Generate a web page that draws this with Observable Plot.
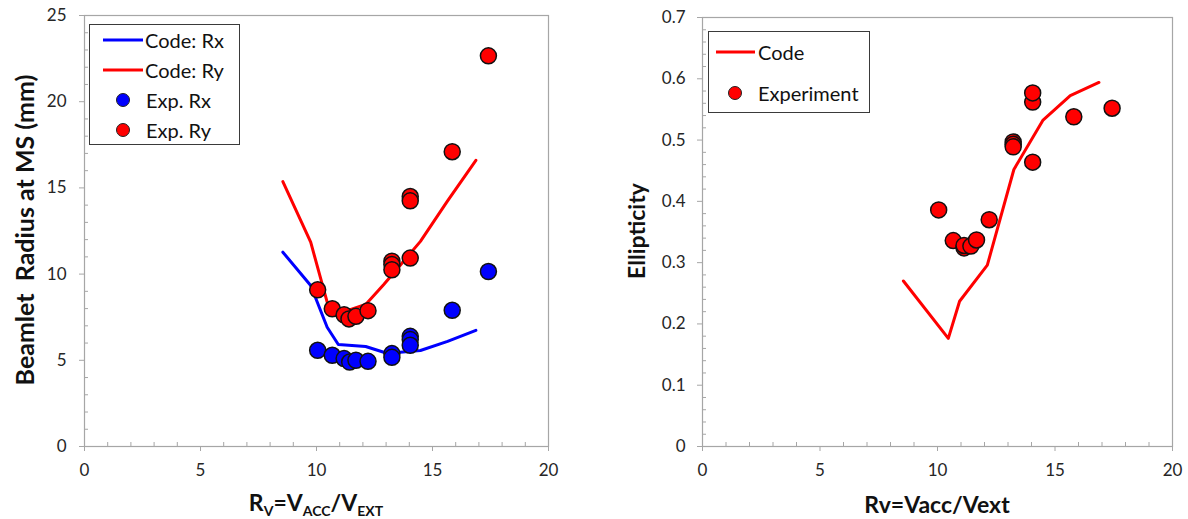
<!DOCTYPE html>
<html><head><meta charset="utf-8">
<script src="https://cdn.jsdelivr.net/npm/d3@7"></script>
<script src="https://cdn.jsdelivr.net/npm/@observablehq/plot@0.6"></script>
<style>
body{margin:0;background:#fff;}
#wrap{position:relative;width:1188px;height:519px;overflow:hidden;font-family:Lato,"Open Sans",sans-serif;color:#111;}
.panel{position:absolute;top:0;}
.legend{position:absolute;border:1.5px solid #3a3a3a;background:#fff;box-sizing:border-box;}
.legend .t{position:absolute;transform:translateY(-50%);font-size:20px;line-height:1;white-space:nowrap;color:#111;}
.legend svg{position:absolute;left:0;top:0;overflow:visible;}
.ytitle{position:absolute;transform:translate(-50%,-50%) rotate(-90deg);white-space:pre;font-weight:bold;font-size:23px;line-height:1;}
.ytitle.big{font-size:25px;}
.xtitle{position:absolute;transform:translate(-50%,-50%);white-space:pre;font-weight:bold;font-size:23px;line-height:1;}
.xtitle sub{font-size:14px;vertical-align:-5px;}
</style></head>
<body><div id="wrap"></div>
<script>
// ---- data ----
const xTicks = [0, 5, 10, 15, 20];
const xMinorTicks = [1,2,3,4,6,7,8,9,11,12,13,14,16,17,18,19];
const leftYTicks = [0, 5, 10, 15, 20, 25];
const leftYMinorTicks = [1,2,3,4,6,7,8,9,11,12,13,14,16,17,18,19,21,22,23,24];
const rightYTicks = [0, 0.1, 0.2, 0.3, 0.4, 0.5, 0.6, 0.7];
const rightYMinorTicks = [0.02,0.04,0.06,0.08,0.12,0.14,0.16,0.18,0.22,0.24,0.26,0.28,0.32,0.34,0.36,0.38,0.42,0.44,0.46,0.48,0.52,0.54,0.56,0.58,0.62,0.64,0.66,0.68];

// Code (simulation)
const codeX  = [8.55, 9.75, 10.46, 10.94, 12.12, 12.9, 13.6, 14.48, 15.65, 16.87];
const codeRx = [11.27, 9.34, 6.92, 5.92, 5.80, 5.47, 5.47, 5.57, 6.10, 6.74];
const codeRy = [15.37, 11.85, 8.37, 7.70, 8.24, 9.40, 10.50, 11.90, 14.25, 16.60];
const codeEX = [8.55, 10.46, 10.94, 12.12, 13.25, 14.48, 15.65, 16.87];
const codeE  = [0.270, 0.1765, 0.237, 0.296, 0.452, 0.532, 0.5725, 0.594];

// Experiment
const expRxX = [10.05, 10.68, 11.19, 11.43, 11.70, 12.22, 13.25, 13.25, 14.04, 14.04, 14.04, 15.85, 17.41];
const expRx  = [5.58, 5.29, 5.10, 4.90, 5.00, 4.94, 5.39, 5.17, 6.39, 6.20, 5.87, 7.90, 10.15];
const expRyX = [10.05, 10.68, 11.19, 11.40, 11.70, 12.22, 13.25, 13.25, 13.25, 14.04, 14.04, 14.04, 15.85, 17.41];
const expRy  = [9.09, 7.99, 7.64, 7.40, 7.55, 7.88, 10.75, 10.55, 10.25, 10.93, 14.50, 14.25, 17.10, 22.66];
const expEX  = [10.05, 10.67, 11.13, 11.13, 11.42, 11.66, 12.20, 13.22, 13.22, 13.22, 14.05, 14.05, 14.05, 15.80, 17.43];
const expE   = [0.386, 0.336, 0.324, 0.328, 0.327, 0.337, 0.370, 0.497, 0.493, 0.489, 0.562, 0.577, 0.464, 0.538, 0.552];

// ---- drawing ----
const BLUE = "#0000ff", RED = "#ff0000", AX = "#a6a6a6", TXT = "#262626";
const wrap = document.getElementById("wrap");

function axes(yTicks, yMinor, yFmt, yPad) {
  return [
    Plot.frame({stroke: AX, strokeWidth: 1.2}),
    Plot.axisX({ticks: xTicks, tickSize: 5, tickPadding: 12, stroke: AX, fill: TXT, label: null, tickFormat: d => String(d)}),
    Plot.axisX({ticks: xMinorTicks, tickSize: 4, dy: -4, stroke: AX, text: null, label: null}),
    Plot.axisY({ticks: yTicks, tickSize: 5, tickPadding: yPad, stroke: AX, fill: TXT, label: null, tickFormat: yFmt}),
    Plot.axisY({ticks: yMinor, tickSize: 4, dx: 4, stroke: AX, text: null, label: null})
  ];
}

const style = {fontFamily: "Lato, 'Open Sans', sans-serif", fontSize: "17px", background: "transparent", overflow: "visible"};

const left = Plot.plot({
  width: 600, height: 519,
  marginLeft: 84, marginRight: 52, marginTop: 15, marginBottom: 73,
  x: {domain: [0, 20]}, y: {domain: [0, 25]},
  style,
  marks: [
    ...axes(leftYTicks, leftYMinorTicks, d => String(d), 13),
    Plot.line(codeRx, {x: codeX, y: codeRx, stroke: BLUE, strokeWidth: 3}),
    Plot.line(codeRy, {x: codeX, y: codeRy, stroke: RED, strokeWidth: 3}),
    Plot.dot(expRx, {x: expRxX, y: expRx, r: 8, fill: BLUE, stroke: "#111", strokeWidth: 1.5}),
    Plot.dot(expRy, {x: expRyX, y: expRy, r: 8, fill: RED, stroke: "#111", strokeWidth: 1.5})
  ]
});
left.classList.add("panel"); left.style.left = "0px";
wrap.appendChild(left);

const right = Plot.plot({
  width: 588, height: 519,
  marginLeft: 102, marginRight: 16, marginTop: 17, marginBottom: 73,
  x: {domain: [0, 20]}, y: {domain: [0, 0.7]},
  style,
  marks: [
    ...axes(rightYTicks, rightYMinorTicks, d => d === 0 ? "0" : d.toFixed(1), 12),
    Plot.line(codeE, {x: codeEX, y: codeE, stroke: RED, strokeWidth: 3}),
    Plot.dot(expE, {x: expEX, y: expE, r: 8, fill: RED, stroke: "#111", strokeWidth: 1.5})
  ]
});
right.classList.add("panel"); right.style.left = "600px";
wrap.appendChild(right);

// ---- legends ----
function legend(box, rows) {
  const d = document.createElement("div");
  d.className = "legend";
  Object.assign(d.style, {left: box.x + "px", top: box.y + "px", width: box.w + "px", height: box.h + "px"});
  const ns = "http://www.w3.org/2000/svg";
  const svg = document.createElementNS(ns, "svg");
  svg.setAttribute("width", box.w); svg.setAttribute("height", box.h);
  d.appendChild(svg);
  for (const r of rows) {
    if (r.type === "line") {
      const l = document.createElementNS(ns, "line");
      l.setAttribute("x1", r.x1); l.setAttribute("x2", r.x2);
      l.setAttribute("y1", r.y); l.setAttribute("y2", r.y);
      l.setAttribute("stroke", r.color); l.setAttribute("stroke-width", 3);
      svg.appendChild(l);
    } else {
      const c = document.createElementNS(ns, "circle");
      c.setAttribute("cx", r.cx); c.setAttribute("cy", r.y); c.setAttribute("r", 6.5);
      c.setAttribute("fill", r.color); c.setAttribute("stroke", "#222"); c.setAttribute("stroke-width", 1);
      svg.appendChild(c);
    }
    const t = document.createElement("div");
    t.className = "t"; t.textContent = r.label;
    t.style.left = r.tx + "px"; t.style.top = r.y + "px";
    d.appendChild(t);
  }
  wrap.appendChild(d);
}
legend({x: 89, y: 24, w: 151, h: 121}, [
  {type: "line", x1: 13, x2: 53, y: 15, color: BLUE, tx: 55, label: "Code: Rx"},
  {type: "line", x1: 13, x2: 53, y: 45, color: RED, tx: 55, label: "Code: Ry"},
  {type: "dot", cx: 33, y: 75, color: BLUE, tx: 56, label: "Exp. Rx"},
  {type: "dot", cx: 33, y: 105, color: RED, tx: 56, label: "Exp. Ry"}
]);
legend({x: 708, y: 31, w: 162, h: 82}, [
  {type: "line", x1: 7, x2: 46, y: 20, color: RED, tx: 49, label: "Code"},
  {type: "dot", cx: 26, y: 61, color: RED, tx: 49, label: "Experiment"}
]);

// ---- axis titles ----
function title(cls, x, y, html) {
  const d = document.createElement("div");
  d.className = cls; d.innerHTML = html;
  d.style.left = x + "px"; d.style.top = y + "px";
  wrap.appendChild(d);
}
title("ytitle big", 24, 230, "Beamlet  Radius at MS (mm)");
title("ytitle", 636, 231, "Ellipticity");
title("xtitle", 316, 504, "R<sub>V</sub>=V<sub>ACC</sub>/V<sub>EXT</sub>");
title("xtitle", 937, 504, "Rv=Vacc/Vext");
</script>
</body></html>
